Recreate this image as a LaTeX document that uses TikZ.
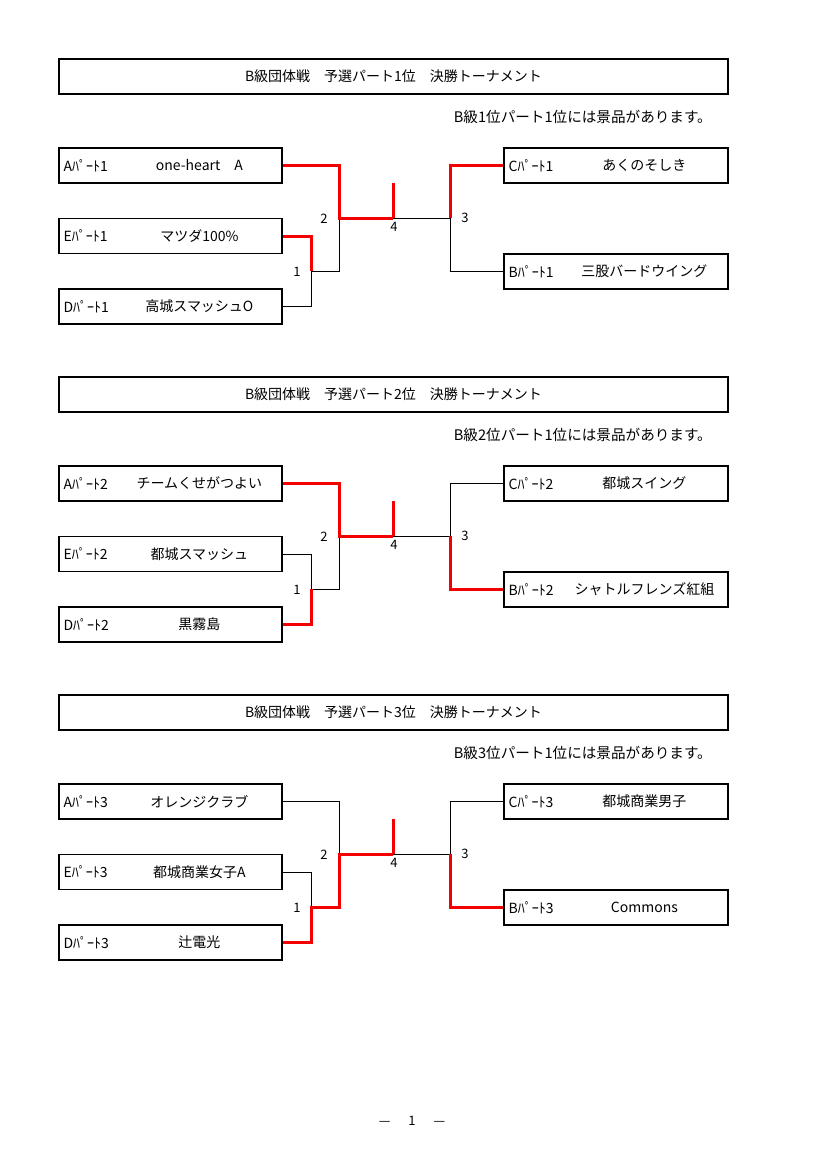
\documentclass[tikz,border=0pt]{standalone}
\usepackage{fontspec}
\setmainfont{Noto Sans CJK JP}
\definecolor{tred}{RGB}{245,0,0}
\newcommand\teamnode[6]{%
  \node[team, minimum width=#4pt] (#1) at (#2,#3) {};
  \node[lbl] at ([xshift=5pt]#1.west) {#5};
  \node[nm] at ([xshift=141pt]#1.west) {#6};
}
\begin{document}
\begin{tikzpicture}[x=1pt,y=-1pt,
  team/.style={draw, line width=1.2pt, minimum height=35pt, inner sep=0pt},
  ttl/.style={draw, line width=2pt, minimum width=669pt, minimum height=35pt, inner sep=0pt, font=\fontsize{14}{15}\selectfont},
  lbl/.style={anchor=west, inner sep=0pt, font=\fontsize{14}{15}\selectfont},
  nm/.style={inner sep=0pt, font=\fontsize{14}{15}\selectfont},
  num/.style={inner sep=0pt, font=\fontsize{13}{14}\selectfont},
  note/.style={anchor=east, inner sep=0pt, font=\fontsize{14.6}{15}\selectfont},
  bl/.style={line width=1pt, black},
  rd/.style={line width=3pt, tred},
]
\fill[white] (0,0) rectangle (827,1169);
\useasboundingbox (0,0) rectangle (827,1169);

% ---------------- Section 1 ----------------
\node[ttl] (T1) at (393.5,76.5) {B級団体戦　予選パート1位　決勝トーナメント};
\node[note] (N1) at (712,117) {B級1位パート1位には景品があります。};
\teamnode{A1}{170.5}{165.5}{223}{Aﾊﾟｰﾄ1}{one-heart　A}
\teamnode{E1}{170.5}{236}{223}{Eﾊﾟｰﾄ1}{マツダ100\%}
\teamnode{D1}{170.5}{306.5}{223}{Dﾊﾟｰﾄ1}{高城スマッシュO}
\teamnode{C1}{616}{165.5}{224}{Cﾊﾟｰﾄ1}{あくのそしき}
\teamnode{B1}{616}{271.5}{224}{Bﾊﾟｰﾄ1}{三股バードウイング}
\coordinate (ra1) at (311,271);
\coordinate (rb1) at (339,218);
\coordinate (f1) at (393,218);
\coordinate (s1) at (393,183);
\coordinate (rc1) at (450,218);
\draw[bl] (D1.east) -| (ra1);
\draw[bl] (ra1) -| (rb1);
\draw[bl] (f1) -- (rc1);
\draw[bl] (B1.west) -| (rc1);
\draw[rd] (A1.east) -| (rb1) -- (f1);
\draw[rd] (s1) -- (f1);
\draw[rd] (E1.east) -| (ra1);
\draw[rd] (C1.west) -| (rc1);
\node[num] (n1a) at (297,272) {1};
\node[num] (n1b) at (324,219) {2};
\node[num] (n1c) at (394,227) {4};
\node[num] (n1d) at (465,218) {3};

% ---------------- Section 2 ----------------
\begin{scope}[yshift=-318pt]
\node[ttl] (T2) at (393.5,76.5) {B級団体戦　予選パート2位　決勝トーナメント};
\node[note] (N2) at (712,117) {B級2位パート1位には景品があります。};
\teamnode{A2}{170.5}{165.5}{223}{Aﾊﾟｰﾄ2}{チームくせがつよい}
\teamnode{E2}{170.5}{236}{223}{Eﾊﾟｰﾄ2}{都城スマッシュ}
\teamnode{D2}{170.5}{306.5}{223}{Dﾊﾟｰﾄ2}{黒霧島}
\teamnode{C2}{616}{165.5}{224}{Cﾊﾟｰﾄ2}{都城スイング}
\teamnode{B2}{616}{271.5}{224}{Bﾊﾟｰﾄ2}{シャトルフレンズ紅組}
\coordinate (ra2) at (311,271);
\coordinate (rb2) at (339,218);
\coordinate (f2) at (393,218);
\coordinate (s2) at (393,183);
\coordinate (rc2) at (450,218);
\draw[bl] (E2.east) -| (ra2);
\draw[bl] (ra2) -| (rb2);
\draw[bl] (f2) -- (rc2);
\draw[bl] (C2.west) -| (rc2);
\draw[rd] (A2.east) -| (rb2) -- (f2);
\draw[rd] (s2) -- (f2);
\draw[rd] (D2.east) -| (ra2);
\draw[rd] (B2.west) -| (rc2);
\node[num] (n2a) at (297,272) {1};
\node[num] (n2b) at (324,219) {2};
\node[num] (n2c) at (394,227) {4};
\node[num] (n2d) at (465,218) {3};
\end{scope}

% ---------------- Section 3 ----------------
\begin{scope}[yshift=-636pt]
\node[ttl] (T3) at (393.5,76.5) {B級団体戦　予選パート3位　決勝トーナメント};
\node[note] (N3) at (712,117) {B級3位パート1位には景品があります。};
\teamnode{A3}{170.5}{165.5}{223}{Aﾊﾟｰﾄ3}{オレンジクラブ}
\teamnode{E3}{170.5}{236}{223}{Eﾊﾟｰﾄ3}{都城商業女子A}
\teamnode{D3}{170.5}{306.5}{223}{Dﾊﾟｰﾄ3}{辻電光}
\teamnode{C3}{616}{165.5}{224}{Cﾊﾟｰﾄ3}{都城商業男子}
\teamnode{B3}{616}{271.5}{224}{Bﾊﾟｰﾄ3}{Commons}
\coordinate (ra3) at (311,271);
\coordinate (rb3) at (339,218);
\coordinate (f3) at (393,218);
\coordinate (s3) at (393,183);
\coordinate (rc3) at (450,218);
\draw[bl] (E3.east) -| (ra3);
\draw[bl] (A3.east) -| (rb3);
\draw[bl] (f3) -- (rc3);
\draw[bl] (C3.west) -| (rc3);
\draw[rd] (D3.east) -| (ra3) -| (rb3) -- (f3);
\draw[rd] (s3) -- (f3);
\draw[rd] (B3.west) -| (rc3);
\node[num] (n3a) at (297,272) {1};
\node[num] (n3b) at (324,219) {2};
\node[num] (n3c) at (394,227) {4};
\node[num] (n3d) at (465,218) {3};
\end{scope}

\node[num] (pg) at (412,1121) {—\hspace{18pt}1\hspace{18pt}—};
\end{tikzpicture}
\end{document}
